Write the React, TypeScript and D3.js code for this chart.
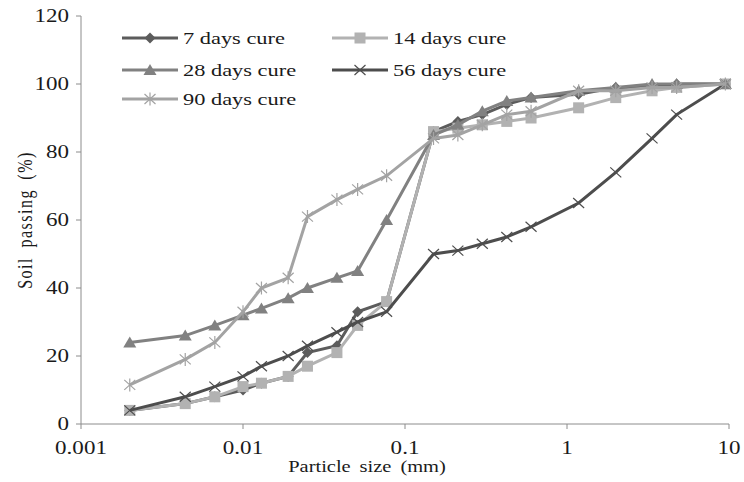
import * as React from "react";
import * as d3 from "d3";

// particle sizes (mm)
const sizes = [0.002, 0.0044, 0.0067, 0.01, 0.013, 0.019, 0.025, 0.038, 0.051, 0.077, 0.15, 0.212, 0.3, 0.425, 0.6, 1.18, 2, 3.35, 4.75, 9.5];

const cure7 = [4, 6, 8, 10, 12, 14, 21, 23, 33, 36, 86, 89, 91, 94, 96, 97, 99, 99, 100, 100];
const cure14 = [4, 6, 8, 11, 12, 14, 17, 21, 29, 36, 86, 87, 88, 89, 90, 93, 96, 98, 99, 100];
const cure28 = [24, 26, 29, 32, 34, 37, 40, 43, 45, 60, 85, 88, 92, 95, 96, 98, 99, 100, 100, 100];
const cure56 = [4, 8, 11, 14, 17, 20, 23, 27, 30, 33, 50, 51, 53, 55, 58, 65, 74, 84, 91, 100];
const cure90 = [11.5, 19, 24, 33, 40, 43, 61, 66, 69, 73, 84, 85, 88, 91, 92, 98, 98, 99, 99, 100];

const xTicks = [0.001, 0.01, 0.1, 1, 10];
const yTicks = [0, 20, 40, 60, 80, 100, 120];

const seriesList = [
  { name: "7 days cure", values: cure7, color: "#5c5c5c", marker: "diamond" },
  { name: "14 days cure", values: cure14, color: "#b2b2b2", marker: "square" },
  { name: "28 days cure", values: cure28, color: "#818181", marker: "triangle" },
  { name: "56 days cure", values: cure56, color: "#4d4d4d", marker: "x" },
  { name: "90 days cure", values: cure90, color: "#a3a3a3", marker: "star" },
];

const font = "Liberation Serif, Times New Roman, serif";
const stretch = 1.28; // the picture's text is wider than it is tall

function T(props: { x: number; y: number; size: number; anchor?: string; children: any }) {
  return (
    <g transform={`translate(${props.x}, ${props.y}) scale(${stretch}, 1)`}>
      <text
        textAnchor={props.anchor || "start"}
        dominantBaseline="central"
        style={{ fontFamily: font, fontSize: props.size }}
        fill="#1a1a1a"
      >
        {props.children}
      </text>
    </g>
  );
}

function Marker(props: { type: string; color: string }) {
  const { type, color } = props;
  if (type === "diamond") {
    return <path d="M0,-5.5L5.5,0L0,5.5L-5.5,0Z" fill={color} />;
  }
  if (type === "square") {
    return <rect x={-5.5} y={-5.5} width={11} height={11} fill={color} />;
  }
  if (type === "triangle") {
    return <path d="M0,-6L6.5,5L-6.5,5Z" fill={color} />;
  }
  if (type === "x") {
    return <path d="M-5.5,-5L5.5,5M-5.5,5L5.5,-5" stroke={color} strokeWidth={1.2} fill="none" />;
  }
  return (
    <path
      d="M-5.5,-5L5.5,5M-5.5,5L5.5,-5M0,-6.5L0,6.5"
      stroke={color}
      strokeWidth={1.2}
      fill="none"
    />
  );
}

export default function App() {
  const width = 744;
  const height = 482;
  const left = 81;
  const right = 729;
  const top = 16;
  const bottom = 424;

  const x = d3.scaleLog().domain([0.001, 10]).range([left, right]);
  const y = d3.scaleLinear().domain([0, 120]).range([bottom, top]);

  const line = d3
    .line<number>()
    .x((d, i) => x(sizes[i]))
    .y((d) => y(d));

  const legendPos = [
    [122, 38],
    [332, 38],
    [122, 70],
    [332, 70],
    [122, 99],
  ];

  return (
    <svg
      width={width}
      height={height}
      style={{ position: "absolute", left: 0, top: 0, background: "#fff" }}
    >
      {/* axes */}
      <line x1={left} x2={left} y1={top} y2={bottom} stroke="#8c8c8c" />
      <line x1={left} x2={right} y1={bottom} y2={bottom} stroke="#8c8c8c" />
      {yTicks.map((t) => (
        <g key={"y" + t}>
          <line x1={left - 5} x2={left} y1={y(t)} y2={y(t)} stroke="#8c8c8c" />
          <T x={left - 12} y={y(t)} size={18} anchor="end">
            {t}
          </T>
        </g>
      ))}
      {xTicks.map((t) => (
        <g key={"x" + t}>
          <line x1={x(t)} x2={x(t)} y1={bottom} y2={bottom + 5} stroke="#8c8c8c" />
          <T x={x(t)} y={bottom + 24} size={18} anchor="middle">
            {t}
          </T>
        </g>
      ))}
      <g transform={`translate(367, 467) scale(${stretch}, 1)`}>
        <text
          textAnchor="middle"
          dominantBaseline="central"
          style={{ fontFamily: font, fontSize: 16, wordSpacing: 3 }}
          fill="#1a1a1a"
        >
          Particle size (mm)
        </text>
      </g>
      <g transform={`translate(25, ${y(60)}) rotate(-90) scale(1, ${stretch})`}>
        <text
          textAnchor="middle"
          dominantBaseline="central"
          style={{ fontFamily: font, fontSize: 16, wordSpacing: 4, letterSpacing: 1.5 }}
          fill="#1a1a1a"
        >
          Soil passing (%)
        </text>
      </g>

      {/* series */}
      {seriesList.map((s) => (
        <g key={s.name}>
          <path d={line(s.values) || ""} stroke={s.color} strokeWidth={3} fill="none" />
          {s.values.map((v, i) => (
            <g key={i} transform={`translate(${x(sizes[i])}, ${y(v)})`}>
              <Marker type={s.marker} color={s.color} />
            </g>
          ))}
        </g>
      ))}

      {/* legend */}
      {seriesList.map((s, i) => (
        <g key={"l" + s.name} transform={`translate(${legendPos[i][0]}, ${legendPos[i][1]})`}>
          <line x1={0} x2={56} stroke={s.color} strokeWidth={3} />
          <g transform="translate(28, 0)">
            <Marker type={s.marker} color={s.color} />
          </g>
          <T x={61} y={0} size={17.5}>
            {s.name}
          </T>
        </g>
      ))}
    </svg>
  );
}
